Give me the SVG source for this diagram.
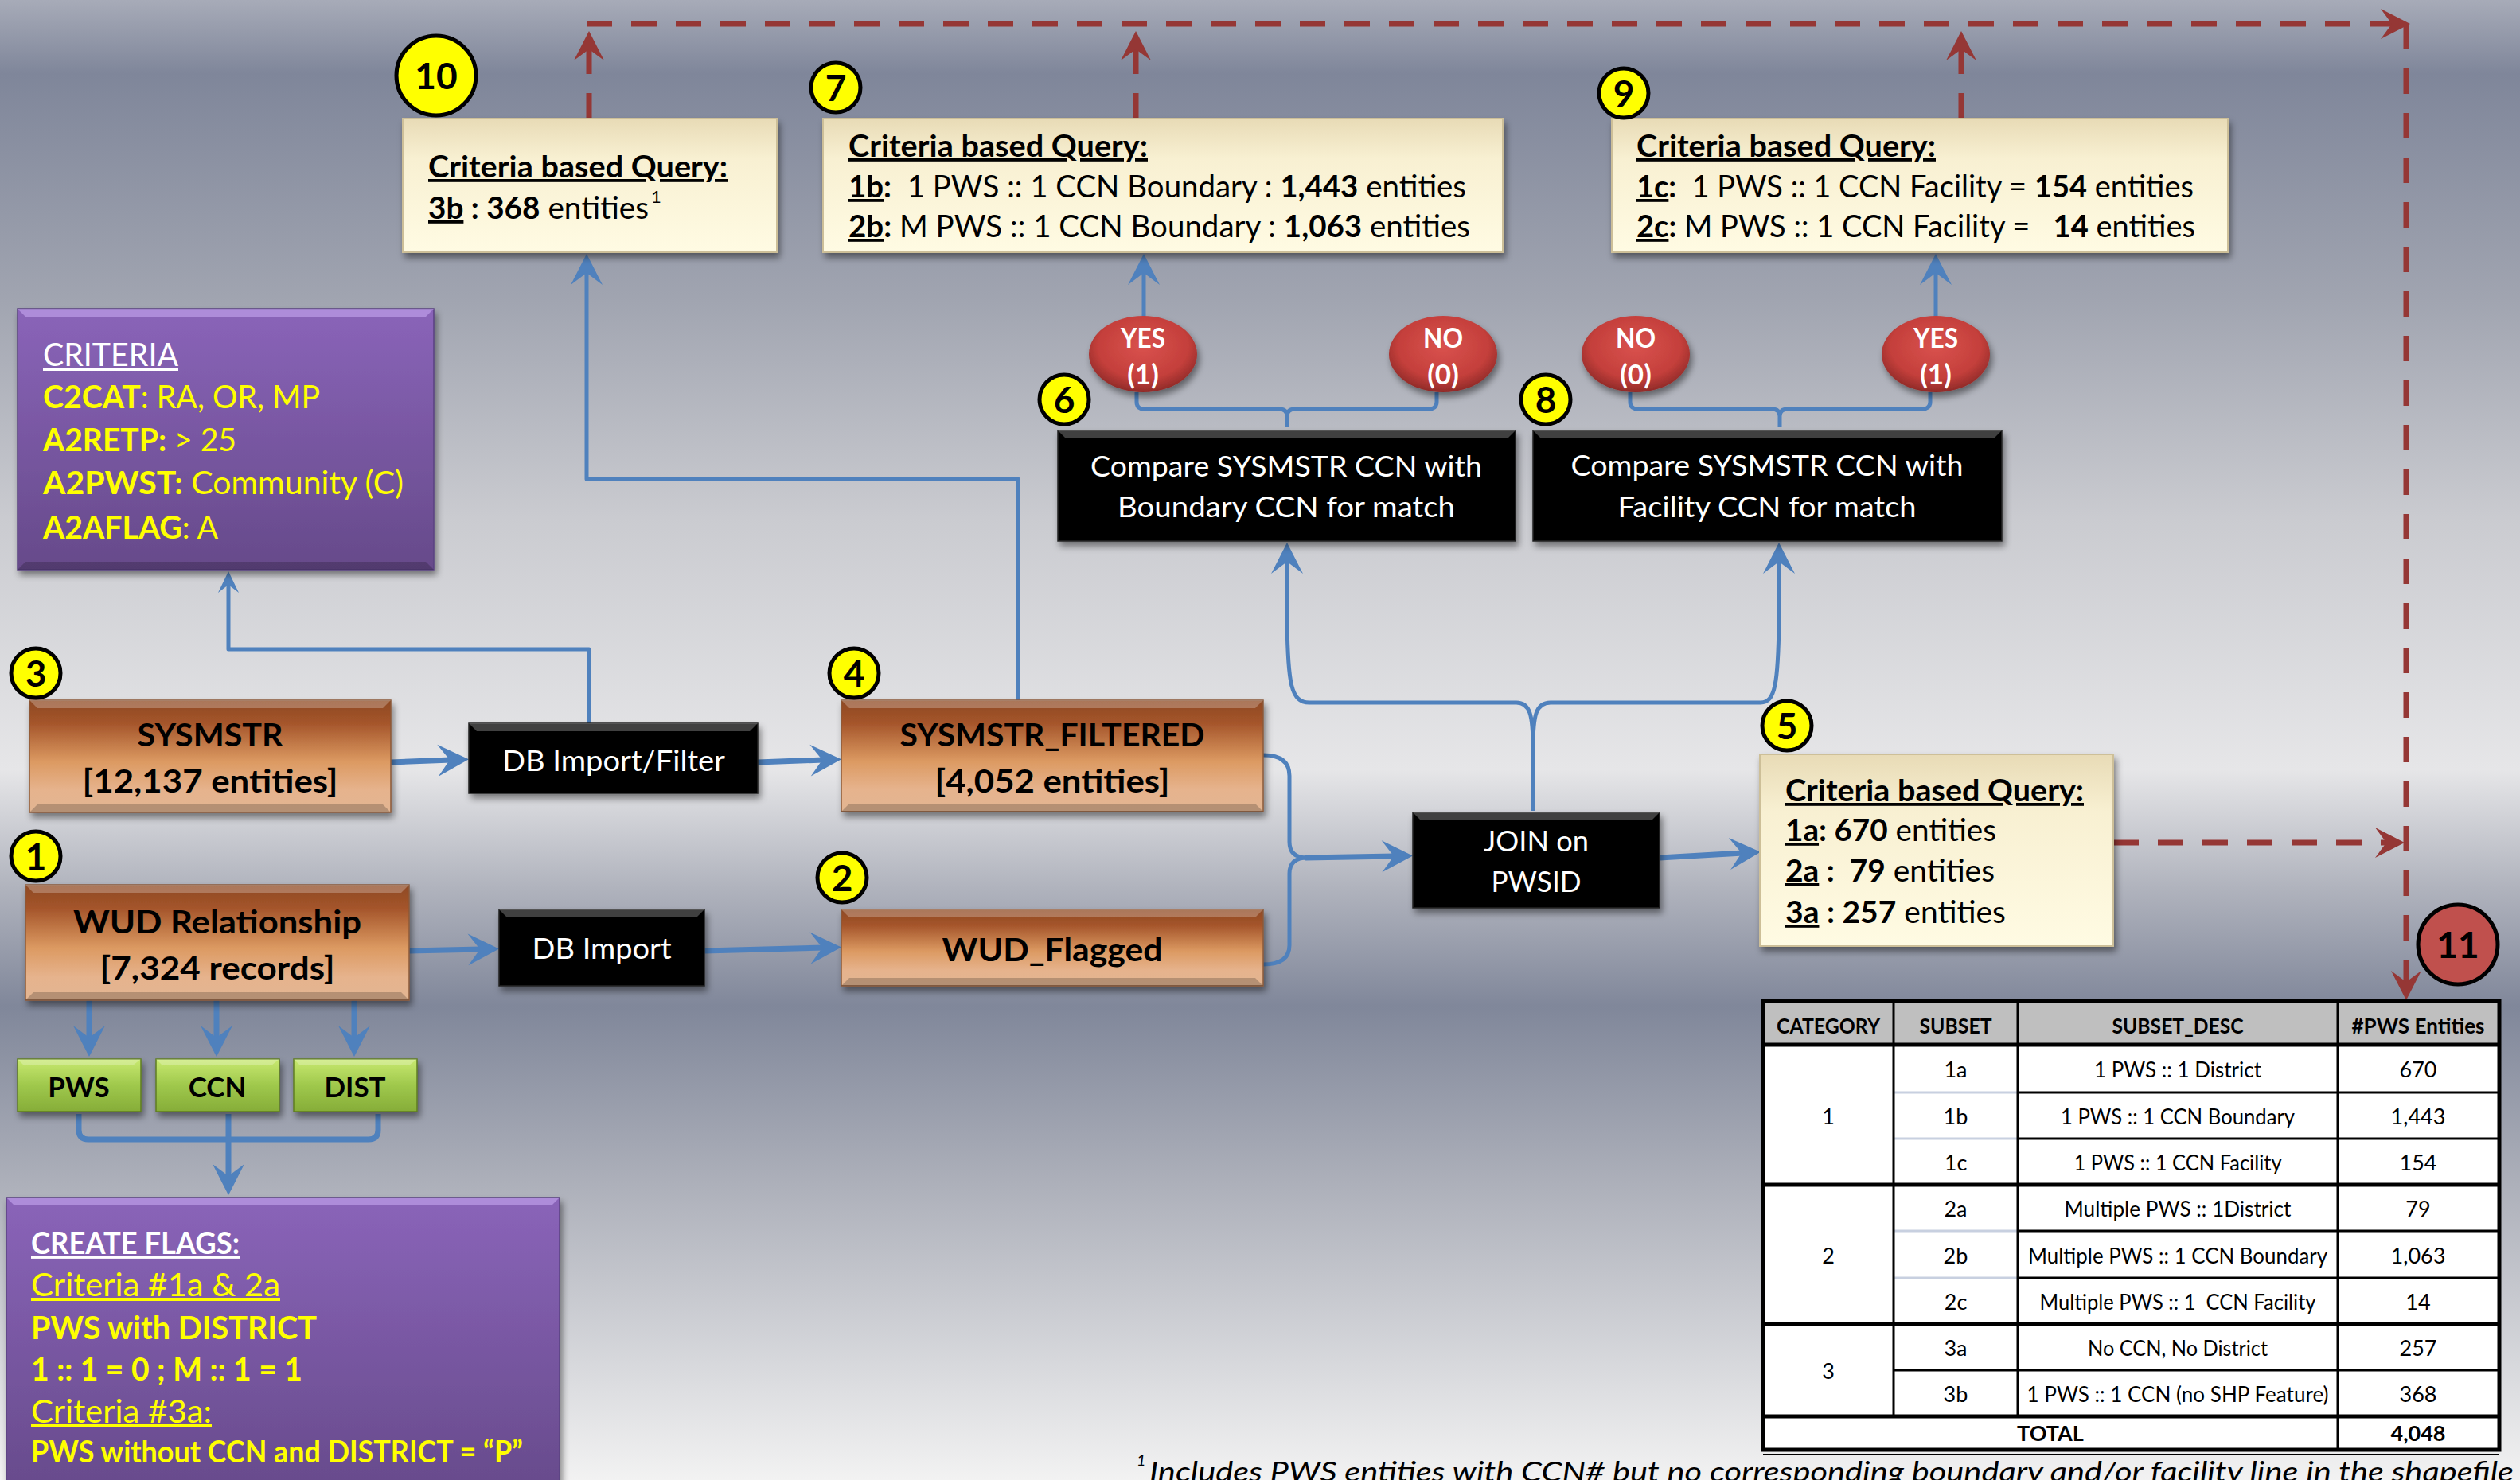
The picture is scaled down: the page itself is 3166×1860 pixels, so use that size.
<svg xmlns="http://www.w3.org/2000/svg" width="3166" height="1860" viewBox="0 0 3166 1860">
<style>
text{font-family:Lato,'Liberation Sans','DejaVu Sans',sans-serif}
.b{font-weight:bold}
.u{text-decoration:underline}
.w{fill:#fff}
.y{fill:#ffff00}
.c{text-anchor:middle}
.bl{fill:none;stroke:#4f81bd;stroke-width:7;stroke-linejoin:round}
.bt{fill:none;stroke:#4f81bd;stroke-width:5;stroke-linejoin:round}
.rd{fill:none;stroke:#953735;stroke-width:7;stroke-dasharray:32 24}
.num{fill:#ffff00;stroke:#000;stroke-width:5}
.nt{font-weight:bold;font-size:46px;text-anchor:middle}
.bev1{fill:#fff;opacity:.25}
.bev2{fill:#000;opacity:.2}
.or{fill:url(#gOr);stroke:#8a5a3a;stroke-width:1.5}
.bk{fill:#050505;stroke:#222;stroke-width:1.5}
.cr{fill:url(#gCr);stroke:#cdbf98;stroke-width:2}
.pu{fill:url(#gPu);stroke:#5a4280;stroke-width:1.5}
.gr{fill:url(#gGr);stroke:#5f7d22;stroke-width:1.5}
.btn{fill:url(#gRed)}
.t1{font-size:38px}
.ot{font-size:41px;font-weight:bold;text-anchor:middle}
.kt{font-size:36px;fill:#fff;text-anchor:middle}
.yt{font-size:35px;font-weight:bold;fill:#fff;text-anchor:middle}
.th{font-size:26px;font-weight:bold;text-anchor:middle}
.td{font-size:27px;text-anchor:middle}
.tl{stroke:#000;stroke-width:3}
.tk{stroke:#000;stroke-width:5}
.tg{stroke:#c8d0e0;stroke-width:3}
</style>
<defs>
<linearGradient id="gBg" x1="0" y1="0" x2="0" y2="1">
<stop offset="0" stop-color="#a7abb8"/>
<stop offset="0.05" stop-color="#7f869a"/>
<stop offset="0.2" stop-color="#a0a4b0"/>
<stop offset="0.35" stop-color="#cacbd0"/>
<stop offset="0.52" stop-color="#e6e6e8"/>
<stop offset="0.6" stop-color="#b0b3bd"/>
<stop offset="0.68" stop-color="#80879a"/>
<stop offset="0.8" stop-color="#adb0ba"/>
<stop offset="1" stop-color="#f2f2f2"/>
</linearGradient>
<linearGradient id="gOr" x1="0" y1="0" x2="0" y2="1">
<stop offset="0" stop-color="#8e4a24"/>
<stop offset="0.2" stop-color="#a4542a"/>
<stop offset="0.55" stop-color="#dc9a62"/>
<stop offset="0.8" stop-color="#e6b38d"/>
<stop offset="1" stop-color="#e2b592"/>
</linearGradient>
<linearGradient id="gCr" x1="0" y1="0" x2="0" y2="1">
<stop offset="0" stop-color="#e8dbb6"/>
<stop offset="0.3" stop-color="#f8f0d2"/>
<stop offset="1" stop-color="#fffbe3"/>
</linearGradient>
<linearGradient id="gPu" x1="0" y1="0" x2="0" y2="1">
<stop offset="0" stop-color="#8a64b9"/>
<stop offset="1" stop-color="#664a8a"/>
</linearGradient>
<linearGradient id="gGr" x1="0" y1="0" x2="0" y2="1">
<stop offset="0" stop-color="#c8e970"/>
<stop offset="0.5" stop-color="#9fc84c"/>
<stop offset="1" stop-color="#86ad38"/>
</linearGradient>
<radialGradient id="gRed" cx="0.5" cy="0.4" r="0.6">
<stop offset="0" stop-color="#d9524e"/>
<stop offset="0.7" stop-color="#c43f3b"/>
<stop offset="1" stop-color="#8f2a28"/>
</radialGradient>
<filter id="sh" x="-10%" y="-10%" width="125%" height="140%">
<feDropShadow dx="3" dy="6" stdDeviation="4" flood-color="#000" flood-opacity="0.45"/>
</filter>
<marker id="ba" markerUnits="userSpaceOnUse" orient="auto" overflow="visible" markerWidth="60" markerHeight="60" refX="0" refY="0">
<path d="M22,0 L-17,-20 L-2,0 L-17,20 Z" fill="#4f81bd"/>
</marker>
<marker id="bs" markerUnits="userSpaceOnUse" orient="auto" overflow="visible" markerWidth="40" markerHeight="40" refX="0" refY="0">
<path d="M15,0 L-12,-13 L-2,0 L-12,13 Z" fill="#4f81bd"/>
</marker>
<marker id="ra" markerUnits="userSpaceOnUse" orient="auto" overflow="visible" markerWidth="60" markerHeight="60" refX="0" refY="0">
<path d="M20,0 L-17,-19 L-3,0 L-17,19 Z" fill="#953735"/>
</marker>
</defs>

<rect x="0" y="0" width="3166" height="1860" fill="url(#gBg)"/>

<g id="connectors">
<path class="bl" d="M491,958 L567,955" marker-end="url(#ba)"/>
<path class="bl" d="M952,958 L1035,955" marker-end="url(#ba)"/>
<path class="bt" d="M740,909 L740,816 L287,816 L287,733" marker-end="url(#bs)"/>
<path class="bt" d="M1279,880 L1279,602 L737,602 L737,341" marker-end="url(#ba)"/>
<path class="bl" d="M514,1195 L605,1193" marker-end="url(#ba)"/>
<path class="bl" d="M885,1195 L1035,1191" marker-end="url(#ba)"/>
<path class="bl" d="M112,1257 L112,1306" marker-end="url(#ba)"/>
<path class="bl" d="M272,1257 L272,1306" marker-end="url(#ba)"/>
<path class="bl" d="M445,1257 L445,1306" marker-end="url(#ba)"/>
<path class="bl" d="M99,1400 L99,1420 Q99,1432 111,1432 L463,1432 Q475,1432 475,1420 L475,1400"/>
<path class="bl" d="M287,1400 L287,1480" marker-end="url(#ba)"/>
<path class="bt" d="M1587,949 Q1620,949 1620,975 L1620,1058 Q1620,1078 1642,1078"/>
<path class="bt" d="M1587,1212 Q1620,1212 1620,1188 L1620,1098 Q1620,1078 1642,1078"/>
<path class="bl" d="M1640,1078 L1753,1076" marker-end="url(#ba)"/>
<path class="bt" d="M1926,1019 L1926,940 C1926,898 1922,883 1905,883 L1645,883 C1622,883 1618,860 1617,780 L1617,704" marker-end="url(#ba)"/>
<path class="bt" d="M1926,940 C1926,898 1930,883 1948,883 L2212,883 C2230,883 2234,860 2235,780 L2235,704" marker-end="url(#ba)"/>
<path class="bl" d="M2085,1078 L2190,1072" marker-end="url(#ba)"/>
<path class="bt" d="M1617,537 L1617,523 Q1617,514 1607,514 L1437,514 Q1428,514 1428,505 L1428,493 M1617,523 Q1617,514 1627,514 L1795,514 Q1805,514 1805,505 L1805,493"/>
<path class="bt" d="M2236,537 L2236,523 Q2236,514 2226,514 L2058,514 Q2048,514 2048,505 L2048,493 M2236,523 Q2236,514 2246,514 L2415,514 Q2425,514 2425,505 L2425,493"/>
<path class="bt" d="M1437,398 L1437,341" marker-end="url(#ba)"/>
<path class="bt" d="M2432,398 L2432,341" marker-end="url(#ba)"/>
<path class="rd" d="M740,149 L740,59" marker-end="url(#ra)"/>
<path class="rd" d="M1427,149 L1427,59" marker-end="url(#ra)"/>
<path class="rd" d="M2464,149 L2464,59" marker-end="url(#ra)"/>
<path class="rd" d="M737,30 L3008,30" marker-end="url(#ra)"/>
<path class="rd" d="M3023,30 L3023,1237" marker-end="url(#ra)"/>
<path class="rd" d="M2655,1059 L3001,1059" marker-end="url(#ra)"/>
</g>

<g id="node-criteria">
<rect class="pu" x="22" y="388" width="523" height="328" filter="url(#sh)"/>
<polygon points="22,388 545,388 535,398 32,398" fill="#c6a8f0" opacity="0.6"/>
<polygon class="bev2" points="22,716 545,716 535,706 32,706"/>
<text x="54" y="460" class="w u" font-size="40" textLength="170" lengthAdjust="spacingAndGlyphs">CRITERIA</text>
<text x="54" y="513" class="y" font-size="40" textLength="348" lengthAdjust="spacingAndGlyphs" xml:space="preserve"><tspan class="b">C2CAT</tspan>: RA, OR, MP</text>
<text x="54" y="567" class="y" font-size="40" textLength="243" lengthAdjust="spacingAndGlyphs" xml:space="preserve"><tspan class="b">A2RETP:</tspan> &gt; 25</text>
<text x="54" y="621" class="y" font-size="40" textLength="453" lengthAdjust="spacingAndGlyphs" xml:space="preserve"><tspan class="b">A2PWST:</tspan> Community (C)</text>
<text x="54" y="677" class="y" font-size="40" textLength="220" lengthAdjust="spacingAndGlyphs" xml:space="preserve"><tspan class="b">A2AFLAG</tspan>: A</text>
</g>

<g id="node-create-flags">
<rect class="pu" x="8" y="1505" width="695" height="380" filter="url(#sh)"/>
<polygon points="8,1505 703,1505 693,1515 18,1515" fill="#c6a8f0" opacity="0.6"/>
<text x="39" y="1576" class="w b u" font-size="39" textLength="262" lengthAdjust="spacingAndGlyphs">CREATE FLAGS:</text>
<text x="39" y="1629" class="y u" font-size="40" textLength="313" lengthAdjust="spacingAndGlyphs">Criteria #1a &amp; 2a</text>
<text x="39" y="1683" class="y b" font-size="40" textLength="359" lengthAdjust="spacingAndGlyphs">PWS with DISTRICT</text>
<text x="39" y="1735" class="y b" font-size="40" textLength="341" lengthAdjust="spacingAndGlyphs">1 :: 1 = 0 ; M :: 1 = 1</text>
<text x="39" y="1788" class="y u" font-size="40" textLength="227" lengthAdjust="spacingAndGlyphs">Criteria #3a:</text>
<text x="39" y="1838" class="y b" font-size="38" textLength="618" lengthAdjust="spacingAndGlyphs">PWS without CCN and DISTRICT = “P”</text>
</g>

<g id="node-sysmstr">
<rect class="or" x="37" y="880" width="454" height="141" filter="url(#sh)"/>
<polygon class="bev1" points="37,880 491,880 481,890 47,890"/>
<polygon class="bev2" points="37,1021 491,1021 481,1011 47,1011"/>
<text x="264" y="938" class="ot" textLength="183" lengthAdjust="spacingAndGlyphs">SYSMSTR</text>
<text x="264" y="996" class="ot" textLength="321" lengthAdjust="spacingAndGlyphs">[12,137 entities]</text>
</g>

<g id="node-wud-relationship">
<rect class="or" x="32" y="1112" width="482" height="145" filter="url(#sh)"/>
<polygon class="bev1" points="32,1112 514,1112 504,1122 42,1122"/>
<polygon class="bev2" points="32,1257 514,1257 504,1247 42,1247"/>
<text x="273" y="1173" class="ot" textLength="362" lengthAdjust="spacingAndGlyphs">WUD Relationship</text>
<text x="273" y="1231" class="ot" textLength="295" lengthAdjust="spacingAndGlyphs">[7,324 records]</text>
</g>

<g id="node-db-import-filter">
<rect class="bk" x="589" y="909" width="363" height="88" filter="url(#sh)"/>
<polygon class="bev1" points="589,909 952,909 942,919 599,919"/>
<text x="771" y="969" class="kt" textLength="280" lengthAdjust="spacingAndGlyphs">DB Import/Filter</text>
</g>

<g id="node-db-import">
<rect class="bk" x="627" y="1143" width="258" height="96" filter="url(#sh)"/>
<polygon class="bev1" points="627,1143 885,1143 875,1153 637,1153"/>
<text x="756" y="1205" class="kt" textLength="175" lengthAdjust="spacingAndGlyphs">DB Import</text>
</g>

<g id="node-sysmstr-filtered">
<rect class="or" x="1057" y="880" width="530" height="140" filter="url(#sh)"/>
<polygon class="bev1" points="1057,880 1587,880 1577,890 1067,890"/>
<polygon class="bev2" points="1057,1020 1587,1020 1577,1010 1067,1010"/>
<text x="1322" y="938" class="ot" textLength="383" lengthAdjust="spacingAndGlyphs">SYSMSTR_FILTERED</text>
<text x="1322" y="996" class="ot" textLength="295" lengthAdjust="spacingAndGlyphs">[4,052 entities]</text>
</g>

<g id="node-wud-flagged">
<rect class="or" x="1057" y="1143" width="530" height="96" filter="url(#sh)"/>
<polygon class="bev1" points="1057,1143 1587,1143 1577,1153 1067,1153"/>
<polygon class="bev2" points="1057,1239 1587,1239 1577,1229 1067,1229"/>
<text x="1322" y="1208" class="ot" textLength="277" lengthAdjust="spacingAndGlyphs">WUD_Flagged</text>
</g>

<g id="node-join">
<rect class="bk" x="1775" y="1021" width="310" height="120" filter="url(#sh)"/>
<polygon class="bev1" points="1775,1021 2085,1021 2075,1031 1785,1031"/>
<text x="1930" y="1070" class="kt" textLength="132" lengthAdjust="spacingAndGlyphs">JOIN on</text>
<text x="1930" y="1121" class="kt" textLength="113" lengthAdjust="spacingAndGlyphs">PWSID</text>
</g>

<g id="node-compare-boundary">
<rect class="bk" x="1329" y="541" width="575" height="139" filter="url(#sh)"/>
<polygon class="bev1" points="1329,541 1904,541 1894,551 1339,551"/>
<text x="1616" y="599" class="kt" textLength="492" lengthAdjust="spacingAndGlyphs">Compare SYSMSTR CCN with</text>
<text x="1616" y="650" class="kt" textLength="424" lengthAdjust="spacingAndGlyphs">Boundary CCN for match</text>
</g>

<g id="node-compare-facility">
<rect class="bk" x="1926" y="541" width="589" height="139" filter="url(#sh)"/>
<polygon class="bev1" points="1926,541 2515,541 2505,551 1936,551"/>
<text x="2220" y="598" class="kt" textLength="493" lengthAdjust="spacingAndGlyphs">Compare SYSMSTR CCN with</text>
<text x="2220" y="650" class="kt" textLength="375" lengthAdjust="spacingAndGlyphs">Facility CCN for match</text>
</g>

<g id="node-yes-boundary">
<ellipse class="btn" cx="1436" cy="445" rx="68" ry="48" filter="url(#sh)"/>
<text x="1436" y="437" class="yt" textLength="56" lengthAdjust="spacingAndGlyphs">YES</text>
<text x="1436" y="483" class="yt">(1)</text>
</g>
<g id="node-no-boundary">
<ellipse class="btn" cx="1813" cy="445" rx="68" ry="48" filter="url(#sh)"/>
<text x="1813" y="437" class="yt" textLength="50" lengthAdjust="spacingAndGlyphs">NO</text>
<text x="1813" y="483" class="yt">(0)</text>
</g>
<g id="node-no-facility">
<ellipse class="btn" cx="2055" cy="445" rx="68" ry="48" filter="url(#sh)"/>
<text x="2055" y="437" class="yt" textLength="50" lengthAdjust="spacingAndGlyphs">NO</text>
<text x="2055" y="483" class="yt">(0)</text>
</g>
<g id="node-yes-facility">
<ellipse class="btn" cx="2432" cy="445" rx="68" ry="48" filter="url(#sh)"/>
<text x="2432" y="437" class="yt" textLength="56" lengthAdjust="spacingAndGlyphs">YES</text>
<text x="2432" y="483" class="yt">(1)</text>
</g>

<g id="node-query-3b">
<rect class="cr" x="506" y="149" width="470" height="168" filter="url(#sh)"/>
<text x="538" y="223" class="b u t1" textLength="376" lengthAdjust="spacingAndGlyphs">Criteria based Query:</text>
<text x="538" y="275" class="t1" textLength="277" lengthAdjust="spacingAndGlyphs" xml:space="preserve"><tspan class="b u">3b</tspan><tspan class="b"> : 368</tspan> entities</text>
<text x="818" y="255" font-size="22">1</text>
</g>

<g id="node-query-1b-2b">
<rect class="cr" x="1034" y="149" width="854" height="168" filter="url(#sh)"/>
<text x="1066" y="197" class="b u t1" textLength="376" lengthAdjust="spacingAndGlyphs">Criteria based Query:</text>
<text x="1066" y="248" class="t1" textLength="776" lengthAdjust="spacingAndGlyphs" xml:space="preserve"><tspan class="b u">1b</tspan><tspan class="b">:</tspan>  1 PWS :: 1 CCN Boundary : <tspan class="b">1,443</tspan> entities</text>
<text x="1066" y="298" class="t1" textLength="781" lengthAdjust="spacingAndGlyphs" xml:space="preserve"><tspan class="b u">2b</tspan><tspan class="b">:</tspan> M PWS :: 1 CCN Boundary : <tspan class="b">1,063</tspan> entities</text>
</g>

<g id="node-query-1c-2c">
<rect class="cr" x="2025" y="149" width="774" height="168" filter="url(#sh)"/>
<text x="2056" y="197" class="b u t1" textLength="376" lengthAdjust="spacingAndGlyphs">Criteria based Query:</text>
<text x="2056" y="248" class="t1" textLength="700" lengthAdjust="spacingAndGlyphs" xml:space="preserve"><tspan class="b u">1c</tspan><tspan class="b">:</tspan>  1 PWS :: 1 CCN Facility = <tspan class="b">154</tspan> entities</text>
<text x="2056" y="298" class="t1" textLength="702" lengthAdjust="spacingAndGlyphs" xml:space="preserve"><tspan class="b u">2c</tspan><tspan class="b">:</tspan> M PWS :: 1 CCN Facility =   <tspan class="b">14</tspan> entities</text>
</g>

<g id="node-query-1a-2a-3a">
<rect class="cr" x="2211" y="948" width="444" height="241" filter="url(#sh)"/>
<text x="2243" y="1007" class="b u t1" textLength="375" lengthAdjust="spacingAndGlyphs">Criteria based Query:</text>
<text x="2243" y="1057" class="t1" textLength="265" lengthAdjust="spacingAndGlyphs" xml:space="preserve"><tspan class="b u">1a</tspan><tspan class="b">: 670</tspan> entities</text>
<text x="2243" y="1108" class="t1" textLength="263" lengthAdjust="spacingAndGlyphs" xml:space="preserve"><tspan class="b u">2a</tspan><tspan class="b"> :  79</tspan> entities</text>
<text x="2243" y="1160" class="t1" textLength="277" lengthAdjust="spacingAndGlyphs" xml:space="preserve"><tspan class="b u">3a</tspan><tspan class="b"> : 257</tspan> entities</text>
</g>

<g id="node-pws">
<rect class="gr" x="22" y="1331" width="155" height="66" filter="url(#sh)"/>
<polygon class="bev1" points="22,1331 177,1331 167,1339 30,1339"/>
<text x="99" y="1379" class="b c" font-size="35">PWS</text>
</g>
<g id="node-ccn">
<rect class="gr" x="196" y="1331" width="155" height="66" filter="url(#sh)"/>
<polygon class="bev1" points="196,1331 351,1331 341,1339 204,1339"/>
<text x="273" y="1379" class="b c" font-size="35">CCN</text>
</g>
<g id="node-dist">
<rect class="gr" x="369" y="1331" width="155" height="66" filter="url(#sh)"/>
<polygon class="bev1" points="369,1331 524,1331 514,1339 377,1339"/>
<text x="446" y="1379" class="b c" font-size="35">DIST</text>
</g>

<g id="badges">
<g id="badge-10"><circle class="num" cx="548" cy="95" r="50"/><text x="548" y="112" class="nt" font-size="48">10</text></g>
<g id="badge-7"><circle class="num" cx="1050" cy="110" r="31"/><text x="1050" y="127" class="nt">7</text></g>
<g id="badge-9"><circle class="num" cx="2040" cy="117" r="31"/><text x="2040" y="134" class="nt">9</text></g>
<g id="badge-6"><circle class="num" cx="1337" cy="502" r="31"/><text x="1337" y="519" class="nt">6</text></g>
<g id="badge-8"><circle class="num" cx="1942" cy="502" r="31"/><text x="1942" y="519" class="nt">8</text></g>
<g id="badge-3"><circle class="num" cx="45" cy="846" r="31"/><text x="45" y="863" class="nt">3</text></g>
<g id="badge-4"><circle class="num" cx="1073" cy="846" r="31"/><text x="1073" y="863" class="nt">4</text></g>
<g id="badge-5"><circle class="num" cx="2245" cy="912" r="31"/><text x="2245" y="929" class="nt">5</text></g>
<g id="badge-1"><circle class="num" cx="45" cy="1076" r="31"/><text x="45" y="1093" class="nt">1</text></g>
<g id="badge-2"><circle class="num" cx="1058" cy="1103" r="31"/><text x="1058" y="1120" class="nt">2</text></g>
<g id="badge-11"><circle cx="3088" cy="1187" r="50" fill="#c0504d" stroke="#000" stroke-width="5"/><text x="3088" y="1204" class="nt" font-size="48">11</text></g>
</g>

<g id="node-table">
<rect x="2215" y="1258" width="925" height="564" fill="#fff"/>
<rect x="2215" y="1258" width="925" height="55" fill="#bfbfbf"/>
<line class="tg" x1="2379" y1="1373" x2="2535" y2="1373"/>
<line class="tg" x1="2379" y1="1431" x2="2535" y2="1431"/>
<line class="tg" x1="2379" y1="1547" x2="2535" y2="1547"/>
<line class="tg" x1="2379" y1="1606" x2="2535" y2="1606"/>
<line class="tl" x1="2535" y1="1373" x2="3140" y2="1373"/>
<line class="tl" x1="2535" y1="1431" x2="3140" y2="1431"/>
<line class="tl" x1="2535" y1="1547" x2="3140" y2="1547"/>
<line class="tl" x1="2535" y1="1606" x2="3140" y2="1606"/>
<line class="tl" x1="2379" y1="1722" x2="3140" y2="1722"/>
<line class="tk" x1="2215" y1="1313" x2="3140" y2="1313"/>
<line class="tk" x1="2215" y1="1489" x2="3140" y2="1489"/>
<line class="tk" x1="2215" y1="1664" x2="3140" y2="1664"/>
<line class="tk" x1="2215" y1="1780" x2="3140" y2="1780"/>
<line class="tl" x1="2379" y1="1258" x2="2379" y2="1780"/>
<line class="tl" x1="2535" y1="1258" x2="2535" y2="1780"/>
<line class="tl" x1="2937" y1="1258" x2="2937" y2="1822"/>
<rect x="2215" y="1258" width="925" height="564" fill="none" stroke="#000" stroke-width="5"/>
<line x1="2215" y1="1828" x2="3140" y2="1828" stroke="#000" stroke-width="2"/>
<text x="2297" y="1299" class="th" textLength="130" lengthAdjust="spacingAndGlyphs">CATEGORY</text>
<text x="2457" y="1299" class="th" textLength="91" lengthAdjust="spacingAndGlyphs">SUBSET</text>
<text x="2736" y="1299" class="th" textLength="165" lengthAdjust="spacingAndGlyphs">SUBSET_DESC</text>
<text x="3038" y="1299" class="th" textLength="167" lengthAdjust="spacingAndGlyphs">#PWS Entities</text>
<text x="2297" y="1413" class="td">1</text>
<text x="2297" y="1588" class="td">2</text>
<text x="2297" y="1733" class="td">3</text>
<text x="2457" y="1354" class="td">1a</text>
<text x="2457" y="1413" class="td">1b</text>
<text x="2457" y="1471" class="td">1c</text>
<text x="2457" y="1529" class="td">2a</text>
<text x="2457" y="1588" class="td">2b</text>
<text x="2457" y="1646" class="td">2c</text>
<text x="2457" y="1704" class="td">3a</text>
<text x="2457" y="1762" class="td">3b</text>
<text x="2736" y="1354" class="td" textLength="210" lengthAdjust="spacingAndGlyphs">1 PWS :: 1 District</text>
<text x="2736" y="1413" class="td" textLength="294" lengthAdjust="spacingAndGlyphs">1 PWS :: 1 CCN Boundary</text>
<text x="2736" y="1471" class="td" textLength="261" lengthAdjust="spacingAndGlyphs">1 PWS :: 1 CCN Facility</text>
<text x="2736" y="1529" class="td" textLength="285" lengthAdjust="spacingAndGlyphs">Multiple PWS :: 1District</text>
<text x="2736" y="1588" class="td" textLength="376" lengthAdjust="spacingAndGlyphs">Multiple PWS :: 1 CCN Boundary</text>
<text x="2736" y="1646" class="td" textLength="347" lengthAdjust="spacingAndGlyphs" xml:space="preserve">Multiple PWS :: 1  CCN Facility</text>
<text x="2736" y="1704" class="td" textLength="226" lengthAdjust="spacingAndGlyphs">No CCN, No District</text>
<text x="2736" y="1762" class="td" textLength="379" lengthAdjust="spacingAndGlyphs">1 PWS :: 1 CCN (no SHP Feature)</text>
<text x="3038" y="1354" class="td">670</text>
<text x="3038" y="1413" class="td">1,443</text>
<text x="3038" y="1471" class="td">154</text>
<text x="3038" y="1529" class="td">79</text>
<text x="3038" y="1588" class="td">1,063</text>
<text x="3038" y="1646" class="td">14</text>
<text x="3038" y="1704" class="td">257</text>
<text x="3038" y="1762" class="td">368</text>
<text x="2576" y="1811" class="td b">TOTAL</text>
<text x="3038" y="1811" class="td b">4,048</text>
</g>

<g id="footnote">
<text x="1428" y="1842" font-size="20" font-style="italic">1</text>
<text x="1444" y="1862" font-size="34" font-style="italic" textLength="1714" lengthAdjust="spacingAndGlyphs">Includes PWS entities with CCN# but no corresponding boundary and/or facility line in the shapefile</text>
</g>
</svg>
